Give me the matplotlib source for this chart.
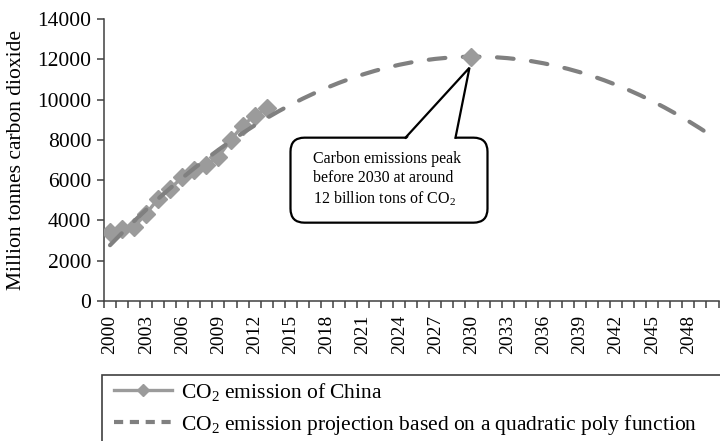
import matplotlib.pyplot as plt
import matplotlib.transforms as mtransforms
from matplotlib.patches import FancyBboxPatch, Rectangle, Polygon
from matplotlib.lines import Line2D
import numpy as np

plt.rcParams['font.family'] = ['Liberation Serif', 'DejaVu Serif']
plt.rcParams['mathtext.fontset'] = 'custom'
plt.rcParams['mathtext.rm'] = 'Liberation Serif'
plt.rcParams['mathtext.it'] = 'Liberation Serif:italic'

# historical emissions (million tonnes CO2)
hist_years = list(range(2000, 2014))
hist_co2 = [3430, 3550, 3680, 4340, 5080, 5580, 6150, 6520, 6730, 7170,
            7970, 8710, 9200, 9560]

# quadratic projection
proj_years = list(range(2000, 2051))
proj_co2 = [2770, 3378, 3965, 4532, 5079, 5605, 6111, 6596, 7061, 7506,
            7930, 8334, 8717, 9080, 9423, 9745, 10047, 10328, 10589, 10830,
            11050, 11250, 11429, 11588, 11727, 11845, 11943, 12020, 12077, 12114,
            12130, 12126, 12101, 12056, 11991, 11905, 11799, 11672, 11525, 11358,
            11170, 10962, 10733, 10484, 10215, 9925, 9615, 9284, 8933, 8562,
            8170]

peak_year = 2030
peak_co2 = 12130

label_hist = r'CO$_\mathrm{2}$ emission of China'
label_proj = r'CO$_\mathrm{2}$ emission projection based on a quadratic poly function'
callout = ('Carbon emissions peak\nbefore 2030 at around\n'
           r'12 billion tons of CO$_\mathrm{2}$')

light = '#9b9b9b'
dark = '#808080'
axis_col = '#404040'

fig = plt.figure(figsize=(7.2, 4.41), dpi=100)
ax = fig.add_axes([104 / 720, 1 - 301 / 441, 614.5 / 720, 282 / 441])

ax.plot(hist_years, hist_co2, color=light, lw=2.4, marker='D', ms=9,
        mec=light, mfc=light, zorder=3)
ax.plot(proj_years, proj_co2, color=dark, lw=3, dashes=(4.0, 4.2),
        dash_capstyle='round', zorder=4)
ax.plot([peak_year], [peak_co2], ls='none', marker='D', ms=9,
        color=light, zorder=5)

ax.set_xlim(1999.5, 2050.5)
ax.set_ylim(0, 14000)
ax.set_yticks(np.arange(0, 14001, 2000))
ax.set_xticks(proj_years[::3])
ax.set_xticklabels([str(y) for y in proj_years[::3]], rotation=90, fontsize=14)
ax.set_xticks(np.arange(1999.5, 2051, 1), minor=True)
ax.tick_params(axis='x', which='major', length=0, pad=10)
ax.tick_params(axis='x', which='minor', length=5, width=1.1, color=axis_col)
ax.tick_params(axis='y', length=5, width=1.1, color=axis_col, labelsize=15.5, pad=4)
ax.set_ylabel('Million tonnes carbon dioxide', fontsize=15.5)
ax.yaxis.set_label_coords(-78 / 614.5, 0.5)

for s in ['top', 'right']:
    ax.spines[s].set_visible(False)
for s in ['left', 'bottom']:
    ax.spines[s].set_color(axis_col)
    ax.spines[s].set_linewidth(1.1)

# callout bubble, laid out in pixels around the peak point
fig.canvas.draw()
ident = mtransforms.IdentityTransform()
px, py = ax.transData.transform((peak_year, peak_co2))
tip_x, tip_y = px - 2, py - 11
bx0, bx1 = tip_x - 179, tip_x + 18
by1 = tip_y - 70
by0 = by1 - 85

box = FancyBboxPatch((bx0, by0), bx1 - bx0, by1 - by0,
                     boxstyle='round,pad=0,rounding_size=14',
                     transform=ident, fc='white', ec='black', lw=1.6,
                     zorder=6, clip_on=False)
fig.add_artist(box)
base_l, base_r = tip_x - 64, tip_x - 14
cover = Polygon([(base_l + 1, by1 - 1.5), (tip_x, tip_y), (base_r - 1, by1 - 1.5)],
                closed=True, transform=ident, fc='white', ec='none', zorder=7)
fig.add_artist(cover)
fig.add_artist(Line2D([base_l, tip_x, base_r], [by1, tip_y, by1], color='black',
                      lw=1.6, transform=ident, zorder=8, solid_joinstyle='miter'))
fig.text(bx0 + 23, by1 - 13, callout, transform=ident, fontsize=11.5,
         va='top', ha='left', linespacing=1.25, zorder=9)

# legend box running off the bottom-right edge
fig.add_artist(Rectangle((102 / 720, -0.1), 1.0, 1 - 375 / 441 + 0.1,
                         transform=fig.transFigure, fill=False, ec=axis_col,
                         lw=1.2, clip_on=False))
h1 = Line2D([], [], color=light, lw=2.4, marker='D', ms=6, mfc=light, mec=light)
h2 = Line2D([], [], color=dark, lw=3, dashes=(2.2, 1.6))
fig.legend([h1, h2], [label_hist, label_proj], loc='upper left',
           bbox_to_anchor=(114 / 720, 1 - 381 / 441), frameon=False,
           fontsize=15.5, handlelength=2.7, handletextpad=0.4, labelspacing=0.45,
           borderpad=0, borderaxespad=0)

fig.savefig('out.png', dpi=100)
